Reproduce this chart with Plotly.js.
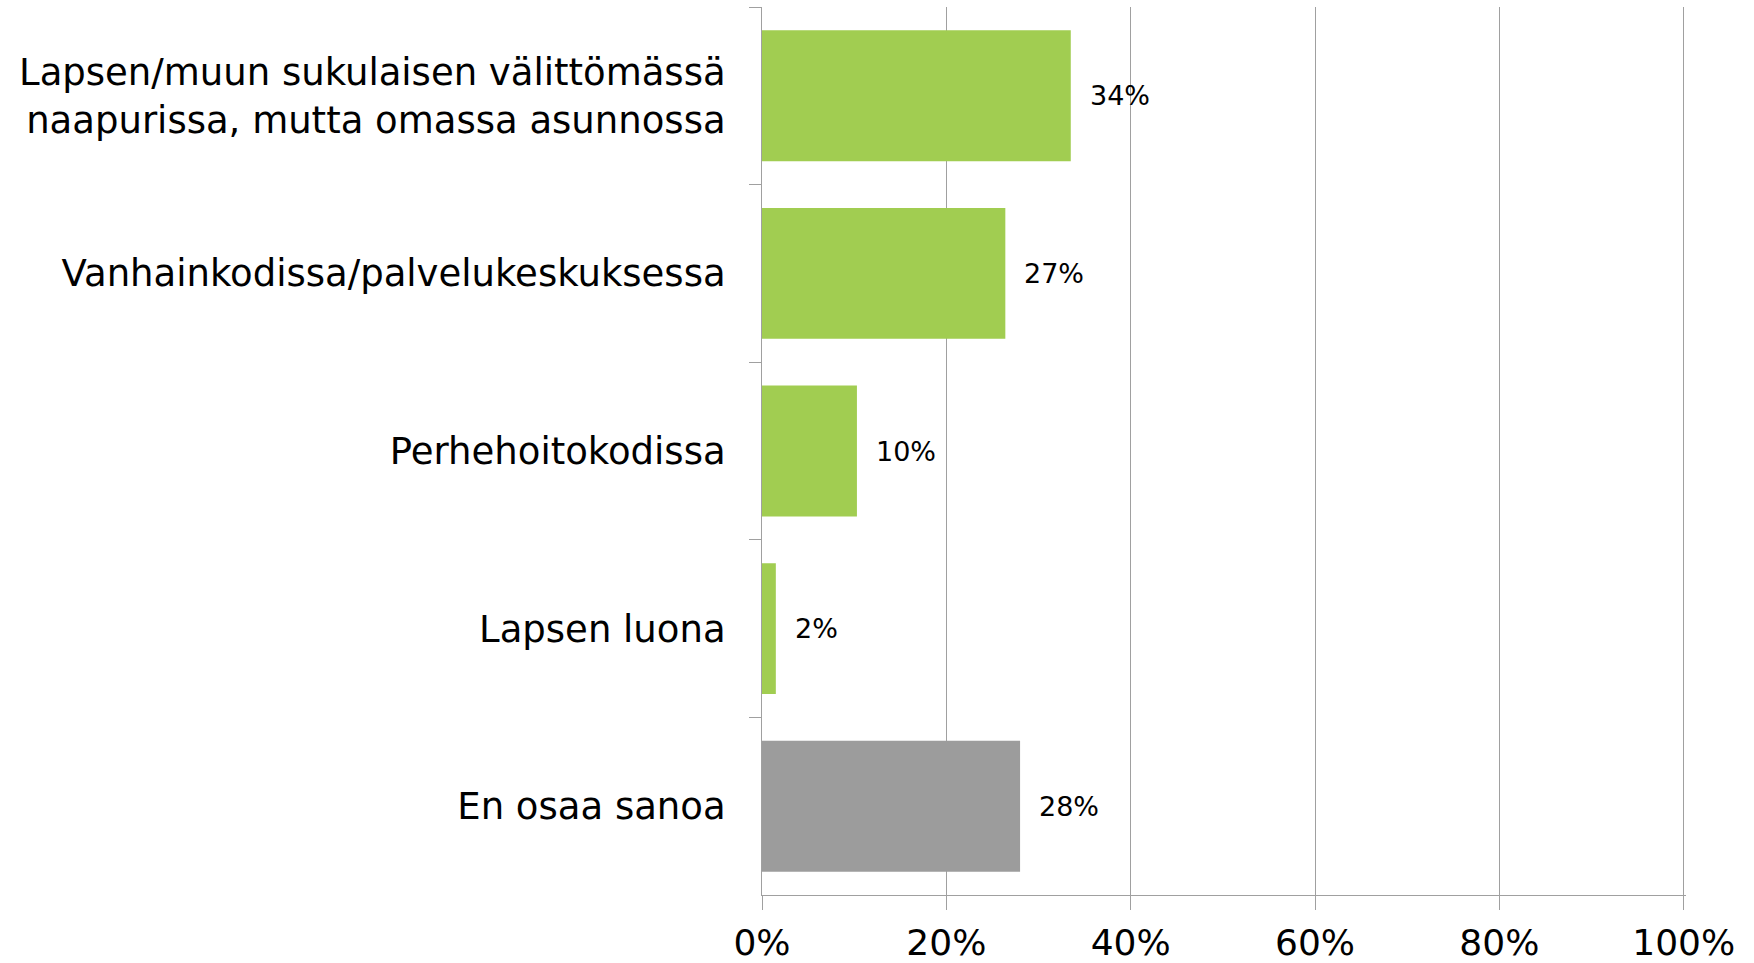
<!DOCTYPE html>
<html>
<head>
<meta charset="utf-8">
<script src="https://cdn.plot.ly/plotly-3.0.1.min.js"></script>
<style>html,body{margin:0;padding:0;background:#fff;}#chart{width:1754px;height:963px;}</style>
</head>
<body>
<div id="chart"></div>
<script>
const categories = [
  "Lapsen/muun sukulaisen välittömässä<br>naapurissa, mutta omassa asunnossa",
  "Vanhainkodissa/palvelukeskuksessa",
  "Perhehoitokodissa",
  "Lapsen luona",
  "En osaa sanoa"
];
const values = [0.335, 0.264, 0.103, 0.015, 0.280];
const valueLabels = ["34%", "27%", "10%", "2%", "28%"];
const barColors = ["#A1CD51", "#A1CD51", "#A1CD51", "#A1CD51", "#9C9C9C"];
const xTickVals = [0, 0.2, 0.4, 0.6, 0.8, 1.0];
const xTickText = ["0%", "20%", "40%", "60%", "80%", "100%"];

const font = "DejaVu Sans, Verdana, sans-serif";

const trace = {
  type: "bar",
  orientation: "h",
  x: values,
  y: categories,
  marker: {color: barColors, line: {width: 0}},
  hoverinfo: "none"
};

const annotations = values.map((v, i) => ({
  x: v, y: categories[i], xref: "x", yref: "y",
  text: valueLabels[i], showarrow: false,
  xanchor: "left", yanchor: "middle", xshift: 17,
  font: {family: font, size: 27, color: "#000"}
}));

const layout = {
  width: 1754, height: 963,
  margin: {l: 762, r: 68, t: 7, b: 68, pad: 0},
  paper_bgcolor: "#fff", plot_bgcolor: "#fff",
  showlegend: false,
  bargap: 0.263,
  font: {family: font, color: "#000"},
  xaxis: {
    range: [0, 1.0025],
    tickvals: xTickVals, ticktext: xTickText,
    showgrid: true, gridcolor: "#A0A0A0", gridwidth: 1,
    zeroline: false,
    showline: true, linecolor: "#A0A0A0", linewidth: 1,
    ticks: "outside", ticklen: 14, tickcolor: "#A0A0A0", tickwidth: 1,
    tickfont: {family: font, size: 36, color: "#000"},
    ticklabelstandoff: 2,
    fixedrange: true
  },
  yaxis: {
    type: "category",
    autorange: "reversed",
    tickson: "boundaries",
    showgrid: false, zeroline: false,
    showline: true, linecolor: "#A0A0A0", linewidth: 1,
    ticks: "outside", ticklen: 12, tickcolor: "#A0A0A0", tickwidth: 1,
    tickfont: {family: font, size: 37, color: "#000"},
    ticklabelstandoff: 28,
    fixedrange: true
  },
  annotations: annotations
};

Plotly.newPlot("chart", [trace], layout, {displayModeBar: false, staticPlot: true});
</script>
</body>
</html>
